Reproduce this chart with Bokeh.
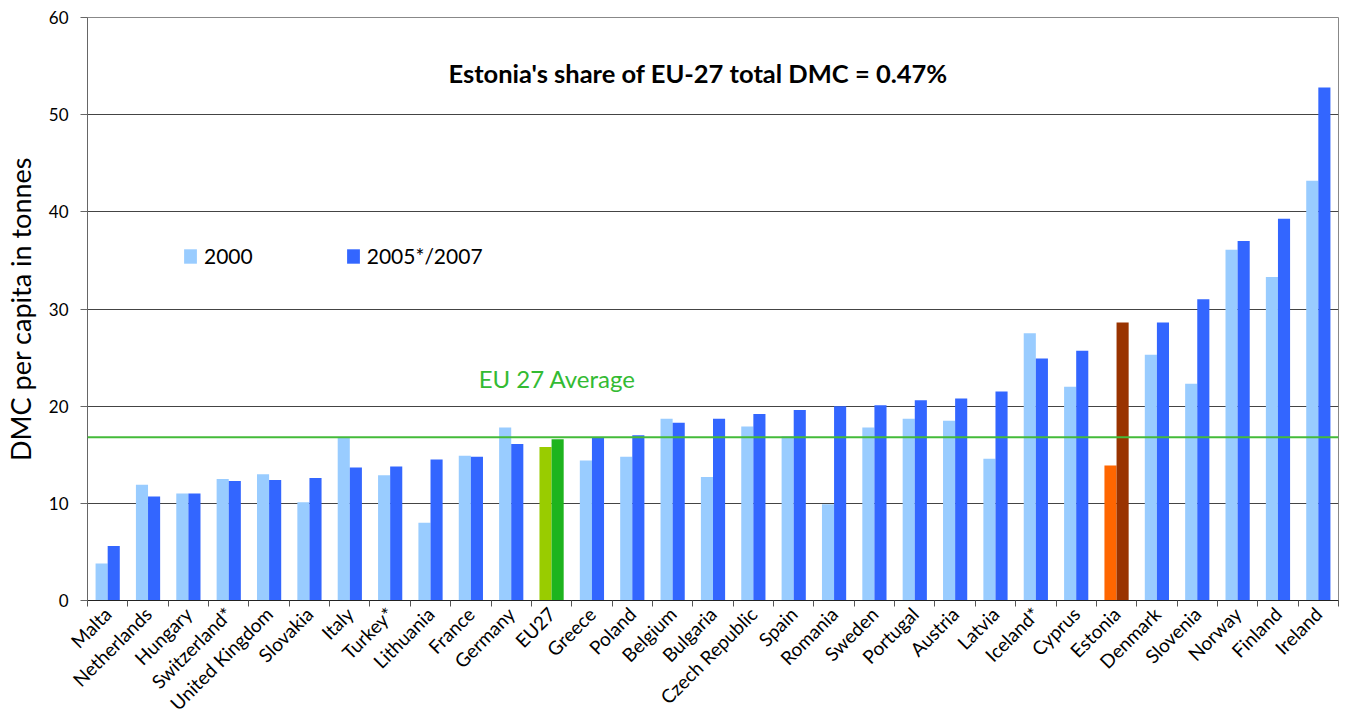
from bokeh.plotting import figure
from bokeh.models import ColumnDataSource, FixedTicker, Legend, LegendItem, Label, Span, Range1d
from bokeh.transform import dodge
from bokeh.embed import file_html
from bokeh.resources import INLINE
import math

countries = ["Malta", "Netherlands", "Hungary", "Switzerland*", "United Kingdom", "Slovakia",
             "Italy", "Turkey*", "Lithuania", "France", "Germany", "EU27", "Greece", "Poland",
             "Belgium", "Bulgaria", "Czech Republic", "Spain", "Romania", "Sweden", "Portugal",
             "Austria", "Latvia", "Iceland*", "Cyprus", "Estonia", "Denmark", "Slovenia",
             "Norway", "Finland", "Ireland"]
dmc_2000 = [3.8, 11.9, 11.0, 12.5, 13.0, 10.1, 16.8, 12.9, 8.0, 14.9, 17.8, 15.8, 14.4, 14.8,
            18.7, 12.7, 17.9, 16.9, 9.9, 17.8, 18.7, 18.5, 14.6, 27.5, 22.0, 13.9, 25.3, 22.3,
            36.1, 33.3, 43.2]
dmc_2007 = [5.6, 10.7, 11.0, 12.3, 12.4, 12.6, 13.7, 13.8, 14.5, 14.8, 16.1, 16.6, 16.8, 17.0,
            18.3, 18.7, 19.2, 19.6, 20.0, 20.1, 20.6, 20.8, 21.5, 24.9, 25.7, 28.6, 28.6, 31.0,
            37.0, 39.3, 52.8]
eu27_average = 16.8
series_names = ["2000", "2005*/2007"]
title_text = "Estonia's share of EU-27 total DMC = 0.47%"
avg_text = "EU 27 Average"
y_title = "DMC per capita in tonnes"
y_ticks = [0, 10, 20, 30, 40, 50, 60]

FONT = "Lato"
n = len(countries)
centers = [i + 0.5 for i in range(n)]
bar_w = 0.3

base1 = {"EU27": "#99CC00", "Estonia": "#FF6600"}
base2 = {"EU27": "#1EB41E", "Estonia": "#993300"}
col1 = [base1.get(c, "#99CCFF") for c in countries]
col2 = [base2.get(c, "#3366FF") for c in countries]

src = ColumnDataSource(dict(x=centers, v1=dmc_2000, v2=dmc_2007, c1=col1, c2=col2))

p = figure(width=1355, height=727, x_range=Range1d(0, n), y_range=Range1d(0, 60),
           output_backend="svg", toolbar_location=None,
           min_border_left=82, min_border_right=17, min_border_top=17, min_border_bottom=127)
p.background_fill_color = "white"
p.border_fill_color = "white"
p.outline_line_color = "#888888"

r1 = p.vbar(x=dodge("x", -bar_w / 2), top="v1", width=bar_w, bottom=0, source=src,
            fill_color="c1", line_color=None)
r2 = p.vbar(x=dodge("x", bar_w / 2), top="v2", width=bar_w, bottom=0, source=src,
            fill_color="c2", line_color=None)

# axes
p.xgrid.visible = False
p.ygrid.ticker = FixedTicker(ticks=y_ticks)
p.ygrid.grid_line_color = "#444444"
p.ygrid.grid_line_width = 1

p.yaxis.ticker = FixedTicker(ticks=y_ticks)
p.yaxis.axis_line_color = "#666666"
p.yaxis.major_tick_line_color = "#666666"
p.yaxis.major_tick_out = 7
p.yaxis.major_tick_in = 0
p.yaxis.minor_tick_line_color = None
p.yaxis.major_label_text_font = FONT
p.yaxis.major_label_text_font_size = "17px"
p.yaxis.major_label_text_color = "#000000"
p.yaxis.major_label_standoff = 12
p.yaxis.axis_label = y_title
p.yaxis.axis_label_text_font = FONT
p.yaxis.axis_label_text_font_size = "27px"
p.yaxis.axis_label_text_font_style = "normal"
p.yaxis.axis_label_text_color = "#000000"
p.yaxis.axis_label_standoff = 9

p.xaxis.ticker = FixedTicker(ticks=centers, minor_ticks=list(range(n + 1)))
p.xaxis.major_label_overrides = {c: name for c, name in zip(centers, countries)}
p.xaxis.major_tick_line_color = None
p.xaxis.minor_tick_line_color = "#555555"
p.xaxis.minor_tick_out = 6
p.xaxis.minor_tick_in = 0
p.xaxis.axis_line_color = "#222222"
p.xaxis.major_label_orientation = math.pi / 4
p.xaxis.major_label_text_font = FONT
p.xaxis.major_label_text_font_size = "19px"
p.xaxis.major_label_text_color = "#000000"
p.xaxis.major_label_standoff = 4

p.add_layout(Span(location=eu27_average, dimension="width", line_color="#44BB3A", line_width=2))

p.add_layout(Label(x=15.13, y=54.3, text=title_text, text_align="center", text_baseline="middle",
                   text_font=FONT, text_font_size="25.5px", text_font_style="bold",
                   text_color="#000000"))
p.add_layout(Label(x=11.64, y=22.8, text=avg_text, text_align="center", text_baseline="middle",
                   text_font=FONT, text_font_size="24px", text_color="#33BB33"))

legend = Legend(items=[LegendItem(label=series_names[0], renderers=[r1], index=0),
                       LegendItem(label=series_names[1], renderers=[r2], index=0)],
                orientation="horizontal", location=(95, 332))
legend.padding = 0
legend.margin = 0
legend.spacing = 92
legend.border_line_color = None
legend.background_fill_alpha = 0
legend.glyph_width = 16
legend.glyph_height = 18
legend.label_standoff = 6
legend.label_text_font = FONT
legend.label_text_font_size = "21px"
legend.label_text_color = "#000000"
p.add_layout(legend)

open("out.html", "w").write(file_html(p, INLINE))
